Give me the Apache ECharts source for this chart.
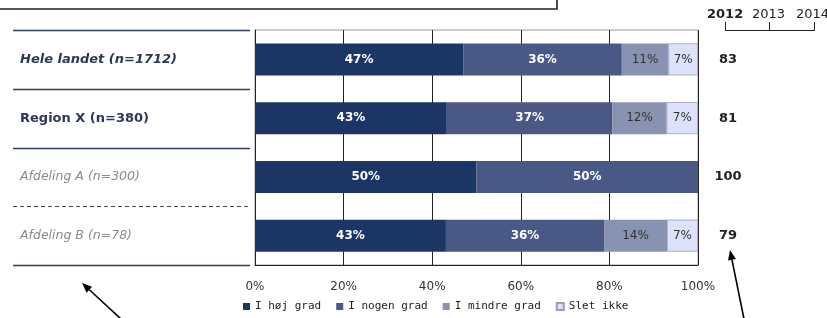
<!DOCTYPE html>
<html><head><meta charset="utf-8">
<script src="https://cdn.jsdelivr.net/npm/echarts@6/dist/echarts.min.js"></script>
<style>html,body{margin:0;padding:0;background:#fff}#c{width:827px;height:318px}</style>
</head><body><div id="c"></div>
<script>
// ---- data ----
const categories = ['Hele landet (n=1712)', 'Region X (n=380)', 'Afdeling A (n=300)', 'Afdeling B (n=78)'];
const seriesNames = ['I høj grad', 'I nogen grad', 'I mindre grad', 'Slet ikke'];
const hojGrad = [47.0, 43.3, 50, 43.1];
const nogenGrad = [35.8, 37.4, 50, 35.7];
const mindreGrad = [10.5, 12.2, null, 14.2];
const sletIkke = [6.7, 7.1, null, 7.0];
const indexValues = [83, 81, 100, 79];
const years = ['2012', '2013', '2014'];
const xMin = 0, xMax = 100, xStep = 20;

// ---- chart ----
const chart = echarts.init(document.getElementById('c'), null, {renderer: 'canvas'});
const FONT = 'DejaVu Sans';
const colors = ['#1b3565', '#4a5885', '#8893b2', '#dde2fa'];
const labelKeys = ['bi', 'b', 'i', 'i'];

function mkSeries(name, data, idx) {
  const dark = idx < 2;
  return {
    name: name, type: 'bar', stack: 'total', data: data, barWidth: 32,
    itemStyle: {color: colors[idx], borderColor: idx === 3 ? '#9a9fb8' : colors[idx], borderWidth: idx === 3 ? 0.8 : 0},
    label: {
      show: true, position: 'inside', fontFamily: FONT, fontSize: 12,
      fontWeight: dark ? 'bold' : 'normal', color: dark ? '#ffffff' : '#333333',
      formatter: p => (p.value == null ? '' : Math.round(p.value) + '%')
    },
    emphasis: {disabled: true}
  };
}

const option = {
  animation: false,
  textStyle: {fontFamily: FONT},
  grid: {left: 255, right: 129, top: 30, bottom: 53, show: true, borderColor: '#9a9a9a', borderWidth: 1, containLabel: false},
  legend: {
    data: seriesNames, left: 238, top: 296, itemWidth: 7, itemHeight: 7, itemGap: 15, icon: 'rect',
    textStyle: {fontFamily: 'DejaVu Sans Mono', fontSize: 11, color: '#222'}
  },
  xAxis: {
    type: 'value', min: xMin, max: xMax, interval: xStep,
    axisLine: {show: true, lineStyle: {color: '#222', width: 1}},
    axisTick: {show: false},
    splitLine: {show: true, lineStyle: {color: '#222', width: 1}},
    axisLabel: {formatter: '{value}%', fontFamily: FONT, fontSize: 12, color: '#333', margin: 16}
  },
  yAxis: [{
    type: 'category', data: categories, inverse: true,
    axisLine: {show: true, lineStyle: {color: '#222', width: 1}},
    axisTick: {show: false},
    axisLabel: {
      align: 'left', margin: 235,
      formatter: (v, i) => '{' + labelKeys[i] + '|' + v + '}',
      rich: {
        bi: {fontFamily: FONT, fontSize: 13, fontWeight: 'bold', fontStyle: 'italic', color: '#2b3757'},
        b: {fontFamily: FONT, fontSize: 13, fontWeight: 'bold', color: '#2b3757'},
        i: {fontFamily: FONT, fontSize: 12.5, fontStyle: 'italic', color: '#8a8a8a'}
      }
    }
  }, {
    type: 'category', data: indexValues.map(String), inverse: true, position: 'right',
    axisLine: {show: false}, axisTick: {show: false},
    axisLabel: {align: 'center', margin: 30, fontFamily: FONT, fontSize: 13, fontWeight: 'bold', color: '#222'}
  }],
  series: [
    mkSeries(seriesNames[0], hojGrad, 0),
    mkSeries(seriesNames[1], nogenGrad, 1),
    mkSeries(seriesNames[2], mindreGrad, 2),
    mkSeries(seriesNames[3], sletIkke, 3)
  ]
};
chart.setOption(option);

// ---- decorations: separators, year bracket, annotation box & arrows ----
const c0 = chart.convertToPixel({yAxisIndex: 0}, categories[0]);
const c1 = chart.convertToPixel({yAxisIndex: 0}, categories[1]);
const band = c1 - c0;
const g = [];
for (let i = 0; i <= categories.length; i++) {
  const y = Math.round(c0 - band / 2 + i * band) + 0.5;
  const dashed = (i === 3);
  g.push({type: 'line', shape: {x1: 13, y1: y, x2: 250, y2: y}, silent: true,
    style: {stroke: dashed ? '#444' : '#2f3d5e', lineWidth: dashed ? 1 : 1.5, lineDash: dashed ? [4, 3] : null}});
}
// years
const yearX = [707, 752, 796];
years.forEach((yr, i) => {
  g.push({type: 'text', x: yearX[i], y: 15, silent: true,
    style: {text: yr, font: (i === 0 ? 'bold ' : '') + '13px ' + FONT, fill: '#222', verticalAlign: 'middle'}});
});
g.push({type: 'polyline', silent: true, shape: {points: [[725.5, 22], [725.5, 30.5], [814.5, 30.5], [814.5, 22]]}, style: {stroke: '#222', lineWidth: 1, fill: null}});
g.push({type: 'line', silent: true, shape: {x1: 769.5, y1: 22, x2: 769.5, y2: 30.5}, style: {stroke: '#222', lineWidth: 1}});
// annotation box edge
g.push({type: 'polyline', silent: true, shape: {points: [[0, 9], [557, 9], [557, 0]]}, style: {stroke: '#222', lineWidth: 1.6, fill: null}});
// arrows
function arrow(x1, y1, x2, y2) {
  const a = Math.atan2(y2 - y1, x2 - x1);
  const L = 10, W = 4;
  const bx = x2 - L * Math.cos(a), by = y2 - L * Math.sin(a);
  g.push({type: 'line', silent: true, shape: {x1: x1, y1: y1, x2: bx, y2: by}, style: {stroke: '#000', lineWidth: 1.6}});
  g.push({type: 'polygon', silent: true, shape: {points: [[x2, y2],
    [bx + W * Math.sin(a), by - W * Math.cos(a)], [bx - W * Math.sin(a), by + W * Math.cos(a)]]}, style: {fill: '#000'}});
}
arrow(121, 319, 82, 283);
arrow(744, 319, 730, 250);
chart.setOption({graphic: g});
</script>
</body></html>
